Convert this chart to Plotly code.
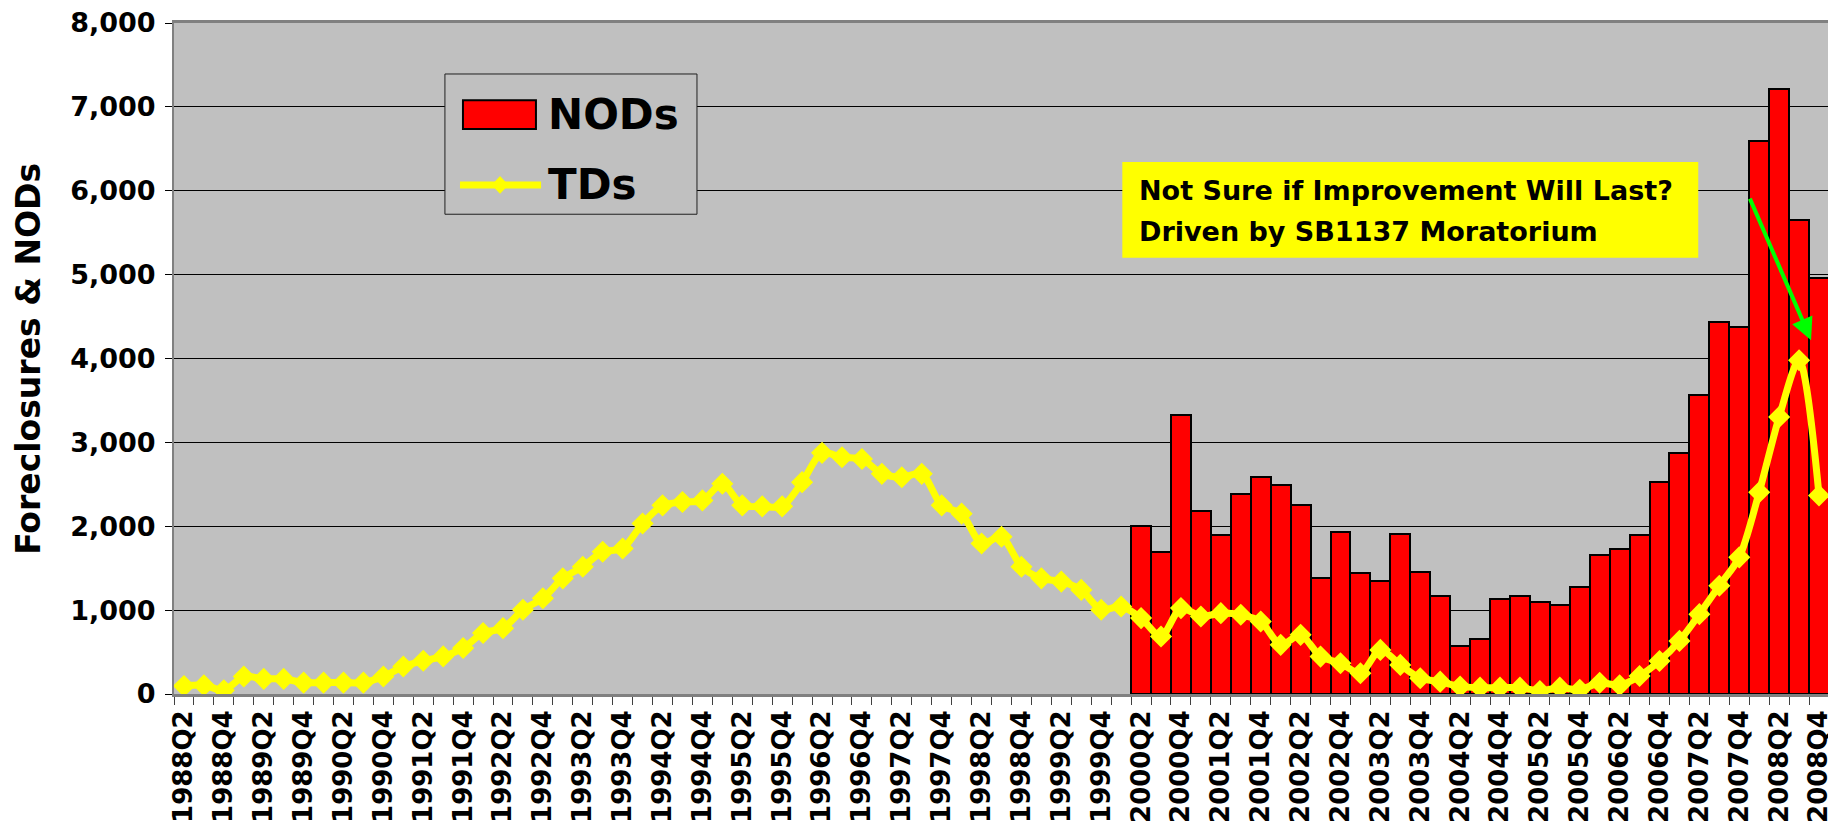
import plotly.graph_objects as go

# quarters 1988Q2 .. 2008Q4
quarters = []
for yr in range(1988, 2009):
    for q in range(1, 5):
        if yr == 1988 and q == 1:
            continue
        quarters.append(f"{yr}Q{q}")

# Trustee deeds (foreclosures), every quarter
tds = [
    96, 104, 45, 208, 180, 180, 136, 136, 136, 136,
    208, 328, 396, 448, 548, 728, 785, 1004, 1142, 1379,
    1518, 1696, 1735, 2032, 2249, 2289, 2308, 2506, 2249, 2237,
    2237, 2526, 2875, 2822, 2802, 2625, 2585, 2625, 2249, 2150,
    1794, 1874, 1518, 1379, 1340, 1241, 1004, 1043, 905, 685,
    1024, 924, 964, 944, 865, 586, 705, 446, 367, 247,
    526, 347, 187, 147, 88, 76, 76, 76, 36, 76,
    50, 135, 104, 215, 394, 633, 952, 1291, 1629, 2406,
    3303, 3980, 2367,
]

# Notices of default, reported from 2000Q2
nods_from = "2000Q2"
nods = [
    2000, 1690, 3324, 2179, 1897, 2386, 2592, 2489, 2250, 1380,
    1936, 1447, 1344, 1905, 1450, 1168, 578, 653, 1131, 1171,
    1100, 1065, 1271, 1658, 1724, 1899, 2528, 2874, 3568, 4432,
    4372, 6593, 7216, 5648, 4955,
]
start = quarters.index(nods_from)
nods_full = [None] * start + nods

tick_text = [q if q.endswith(("Q2", "Q4")) else "" for q in quarters]

FONT = "DejaVu Sans"

fig = go.Figure()
fig.add_trace(go.Bar(
    x=quarters, y=nods_full, name="NODs",
    marker=dict(color="#FF0000", line=dict(color="black", width=2)),
    showlegend=False,
))
fig.add_trace(go.Scatter(
    x=quarters, y=tds, name="TDs", mode="lines+markers",
    line=dict(color="#FFFF00", width=7, shape="spline", smoothing=0.8),
    marker=dict(symbol="diamond", size=17, color="#FFFF00"),
    showlegend=False,
))

# page body has an 8px margin, so the figure is 8px smaller than the window
fig.update_layout(
    width=1828, height=822,
    margin=dict(l=166, r=7, t=15, b=136),
    paper_bgcolor="white",
    plot_bgcolor="#C0C0C0",
    bargap=0,
    font=dict(family=FONT, color="black", weight="bold"),
)
fig.update_xaxes(
    type="category", automargin=False,
    tickmode="array", tickvals=quarters, ticktext=tick_text,
    tickson="boundaries", ticks="outside", ticklen=8, tickcolor="#404040",
    tickangle=-90, tickfont=dict(size=26, family=FONT, weight="bold"),
    ticklabelstandoff=3, ticklabeloverflow="allow",
    showline=True, linecolor="#808080", linewidth=3, mirror=True,
    showgrid=False, range=[-0.5, len(quarters) - 0.5],
)
fig.update_yaxes(
    automargin=False,
    range=[0, 8000], dtick=1000, tickformat=",d",
    ticks="outside", ticklen=7, tickcolor="black",
    tickfont=dict(size=27, family=FONT, weight="bold"),
    ticklabelstandoff=4, ticklabeloverflow="allow",
    showgrid=True, gridcolor="black", gridwidth=1,
    showline=True, linecolor="#808080", linewidth=2, mirror=True,
    zeroline=False,
)

# y-axis title
fig.add_annotation(xref="paper", yref="paper", x=-0.088, y=0.5, text="Foreclosures & NODs",
                   textangle=-90, showarrow=False, xanchor="center", yanchor="middle",
                   font=dict(size=33, family=FONT, weight="bold"))

# legend box drawn by hand (big symbols as in the original)
fig.add_shape(type="rect", xref="paper", yref="paper", x0=0.1637, x1=0.316, y0=0.715, y1=0.924,
              line=dict(color="#202020", width=1), fillcolor="#C0C0C0", layer="above")
fig.add_shape(type="rect", xref="paper", yref="paper", x0=0.1746, x1=0.2187, y0=0.842, y1=0.885,
              line=dict(color="black", width=2), fillcolor="#FF0000", layer="above")
fig.add_shape(type="line", xref="paper", yref="paper", x0=0.1728, x1=0.2218, y0=0.7586, y1=0.7586,
              line=dict(color="#FFFF00", width=7), layer="above")
cx, cy, dx, dy = 0.197, 0.7586, 0.0048, 0.0125
fig.add_shape(type="path", xref="paper", yref="paper",
              path=f"M {cx - dx} {cy} L {cx} {cy + dy} L {cx + dx} {cy} L {cx} {cy - dy} Z",
              fillcolor="#FFFF00", line=dict(color="#FFFF00", width=1), layer="above")
for label, ly in [("NODs", 0.864), ("TDs", 0.7586)]:
    fig.add_annotation(xref="paper", yref="paper", x=0.2245, y=ly, text=label, showarrow=False,
                       xanchor="left", yanchor="middle", font=dict(size=42, family=FONT, weight="bold"))

# callout box
fig.add_shape(type="rect", xref="paper", yref="paper", x0=0.573, x1=0.921, y0=0.650, y1=0.793,
              line=dict(width=0), fillcolor="#FFFF00", layer="above")
for line_text, ly in [("Not Sure if Improvement Will Last?", 0.751), ("Driven by SB1137 Moratorium", 0.690)]:
    fig.add_annotation(xref="paper", yref="paper", x=0.582, y=ly, text=line_text, showarrow=False,
                       xanchor="left", yanchor="middle", font=dict(size=27, family=FONT, weight="bold"))

# green arrow pointing at the drop
fig.add_annotation(x=81.6, y=4219, ax=78.5, ay=5924, xref="x", yref="y", axref="x", ayref="y",
                   text="", showarrow=True, arrowhead=2, arrowsize=1.1, arrowwidth=4, arrowcolor="#00FF00")

fig.write_html("out.html")
